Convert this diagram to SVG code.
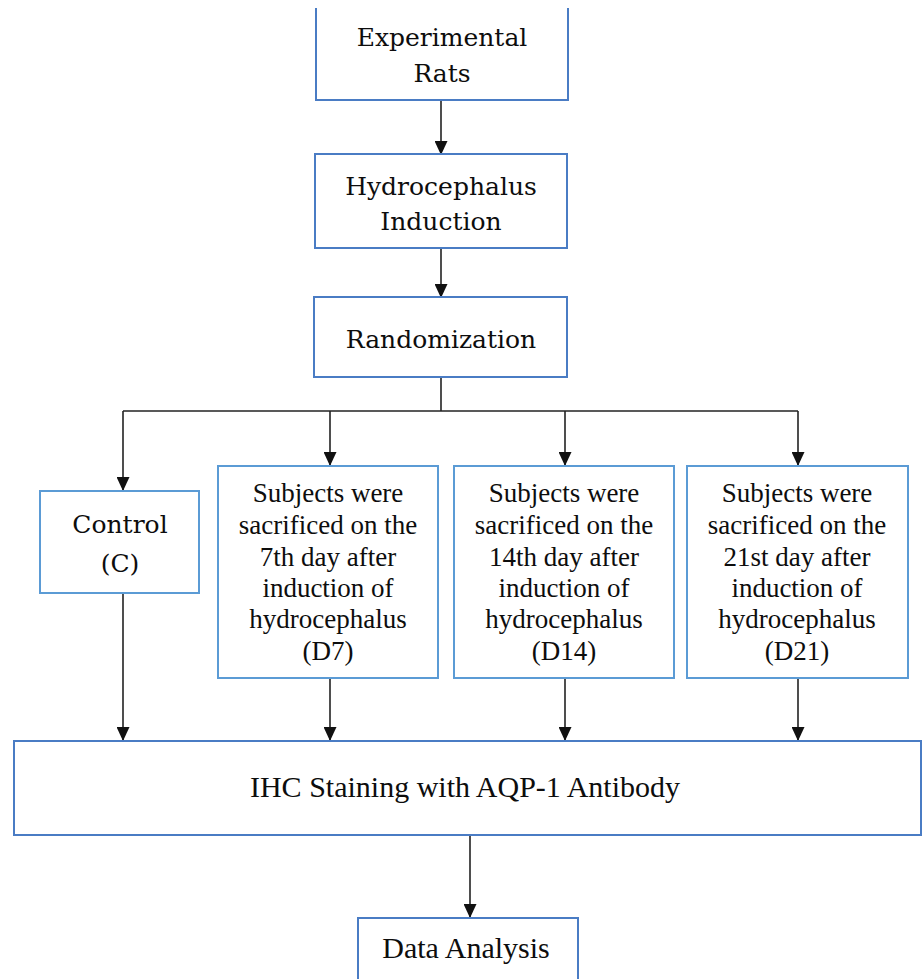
<svg xmlns="http://www.w3.org/2000/svg" width="923" height="979" viewBox="0 0 923 979">
<style>
.box{fill:#ffffff;stroke:#4a7cc4;stroke-width:2}
.box2{fill:#ffffff;stroke:#5b9bd5;stroke-width:2}
.cam{font-family:"DejaVu Serif",serif;font-size:25px;fill:#0d0d0d;text-anchor:middle}
.tnr{font-family:'Liberation Serif','DejaVu Serif',serif;font-size:27px;fill:#0d0d0d;text-anchor:middle}
.big{font-family:'Liberation Serif','DejaVu Serif',serif;font-size:30px;fill:#0d0d0d;text-anchor:middle}
.con{stroke:#222222;stroke-width:1.6;fill:none}
.arr{marker-end:url(#ah)}
</style>
<defs>
<marker id="ah" markerUnits="userSpaceOnUse" markerWidth="15" markerHeight="13" refX="14" refY="6.5" orient="auto" viewBox="0 0 15 13">
<path d="M0,0 L14,6.5 L0,13 z" fill="#111111"/>
</marker>
</defs>
<rect width="923" height="979" fill="#ffffff"/>
<g id="connectors">
<line class="con arr" x1="441" y1="101" x2="441" y2="155"/>
<line class="con arr" x1="441" y1="249" x2="441" y2="298"/>
<line class="con" x1="441" y1="378" x2="441" y2="411"/>
<line class="con" x1="123" y1="411" x2="798" y2="411"/>
<line class="con arr" x1="123" y1="411" x2="123" y2="491"/>
<line class="con arr" x1="330" y1="411" x2="330" y2="466"/>
<line class="con arr" x1="565" y1="411" x2="565" y2="466"/>
<line class="con arr" x1="798" y1="411" x2="798" y2="466"/>
<line class="con arr" x1="123" y1="594" x2="123" y2="741"/>
<line class="con arr" x1="330" y1="679" x2="330" y2="741"/>
<line class="con arr" x1="565" y1="679" x2="565" y2="741"/>
<line class="con arr" x1="798" y1="679" x2="798" y2="741"/>
<line class="con arr" x1="470" y1="836" x2="470" y2="918"/>
</g>
<g id="node-rats">
<path class="box" d="M316,8 V100 H568 V8"/>
<text class="cam" x="442" y="46">Experimental</text>
<text class="cam" x="442" y="82">Rats</text>
</g>
<g id="node-induction">
<rect class="box" x="315" y="154" width="252" height="94"/>
<text class="cam" x="441" y="195">Hydrocephalus</text>
<text class="cam" x="441" y="230">Induction</text>
</g>
<g id="node-random">
<rect class="box" x="314" y="297" width="253" height="80"/>
<text class="cam" x="441" y="348">Randomization</text>
</g>
<g id="node-control">
<rect class="box2" x="40" y="491" width="159" height="102"/>
<text class="cam" x="120" y="533">Control</text>
<text class="cam" x="120" y="572">(C)</text>
</g>
<g id="node-d7">
<rect class="box2" x="218" y="466" width="220" height="212"/>
<text class="tnr" x="328" y="502">Subjects were</text>
<text class="tnr" x="328" y="534">sacrificed on the</text>
<text class="tnr" x="328" y="566">7th day after</text>
<text class="tnr" x="328" y="597">induction of</text>
<text class="tnr" x="328" y="628">hydrocephalus</text>
<text class="tnr" x="328" y="660">(D7)</text>
</g>
<g id="node-d14">
<rect class="box2" x="454" y="466" width="220" height="212"/>
<text class="tnr" x="564" y="502">Subjects were</text>
<text class="tnr" x="564" y="534">sacrificed on the</text>
<text class="tnr" x="564" y="566">14th day after</text>
<text class="tnr" x="564" y="597">induction of</text>
<text class="tnr" x="564" y="628">hydrocephalus</text>
<text class="tnr" x="564" y="660">(D14)</text>
</g>
<g id="node-d21">
<rect class="box2" x="687" y="466" width="221" height="212"/>
<text class="tnr" x="797" y="502">Subjects were</text>
<text class="tnr" x="797" y="534">sacrificed on the</text>
<text class="tnr" x="797" y="566">21st day after</text>
<text class="tnr" x="797" y="597">induction of</text>
<text class="tnr" x="797" y="628">hydrocephalus</text>
<text class="tnr" x="797" y="660">(D21)</text>
</g>
<g id="node-ihc">
<rect class="box" x="14" y="741" width="907" height="94"/>
<text class="big" x="465" y="797">IHC Staining with AQP-1 Antibody</text>
</g>
<g id="node-analysis">
<rect class="box" x="358" y="918" width="220" height="80"/>
<text class="big" x="466" y="958">Data Analysis</text>
</g>
</svg>
